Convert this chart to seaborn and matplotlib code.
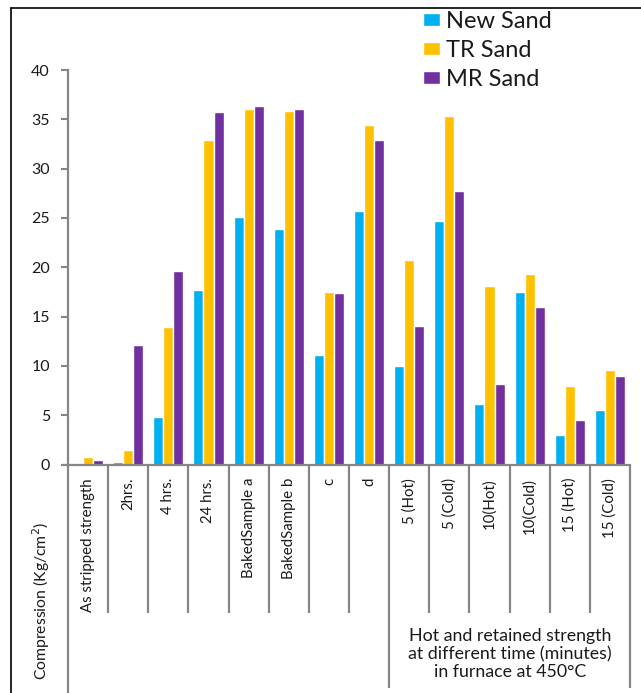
import matplotlib.pyplot as plt
import pandas as pd
import seaborn as sns


CATEGORIES = [
    "As stripped strength", "2hrs.", "4 hrs.", "24 hrs.",
    "BakedSample a", "BakedSample b", "c", "d",
    "5 (Hot)", "5 (Cold)", "10(Hot)", "10(Cold)", "15 (Hot)", "15 (Cold)",
]
SERIES = ["New Sand", "TR Sand", "MR Sand"]
NEW_SAND = [0.2, 0.3, 4.8, 17.7, 25.1, 23.9, 11.1, 25.7, 10.0, 24.7, 6.1, 17.5, 3.0, 5.5]
TR_SAND = [0.8, 1.5, 13.9, 32.9, 36.0, 35.8, 17.5, 34.4, 20.7, 35.3, 18.1, 19.3, 8.0, 9.6]
MR_SAND = [0.5, 12.1, 19.6, 35.7, 36.4, 36.0, 17.4, 32.9, 14.0, 27.7, 8.2, 16.0, 4.5, 9.0]
Y_TICKS = [0, 5, 10, 15, 20, 25, 30, 35, 40]
NOTE = "Hot and retained strength\nat different time (minutes)\nin furnace at 450°C"

COLORS = ["#00B0F0", "#FFC000", "#7030A0"]
GRAY = "#868686"
TEXT = "#1a1a1a"


def main() -> None:
    sns.set_theme(style="white")
    plt.rcParams["font.family"] = ["Lato", "DejaVu Sans"]

    df = pd.DataFrame({
        "category": CATEGORIES * 3,
        "series": [s for s in SERIES for _ in CATEGORIES],
        "value": NEW_SAND + TR_SAND + MR_SAND,
    })

    W, H = 641, 693
    top_px, base_px = 70, 464.5
    fig = plt.figure(figsize=(W / 100, H / 100), dpi=100)
    ax = fig.add_axes([68 / W, 1 - base_px / H, 562 / W, (base_px - top_px) / H])

    sns.barplot(
        data=df, x="category", y="value", hue="series",
        order=CATEGORIES, hue_order=SERIES, palette=COLORS,
        width=0.75, saturation=1, ax=ax,
    )

    ax.set_xlim(-0.5, len(CATEGORIES) - 0.5)
    ax.set_ylim(0, 40)
    ax.set_yticks(Y_TICKS)
    ax.tick_params(axis="y", left=True, length=5, width=1.5, color=GRAY,
                   labelsize=11.5, labelcolor=TEXT, pad=8)
    ax.set_xticks([])
    ax.set_xlabel("")
    ax.set_ylabel("")
    for side in ["top", "right"]:
        ax.spines[side].set_visible(False)
    for side in ["left", "bottom"]:
        ax.spines[side].set_color(GRAY)
        ax.spines[side].set_linewidth(1.6)

    # table lines below the axis
    span = base_px - top_px
    bt = ax.get_xaxis_transform()
    short_y = -(613 - base_px) / span
    long_y = -(688 - base_px) / span
    left_y = -(693 - base_px) / span
    n = len(CATEGORIES)
    for i in range(n + 1):
        if i == 0:
            y_end = left_y
        elif i in (8, n):
            y_end = long_y
        else:
            y_end = short_y
        ax.plot([i - 0.5, i - 0.5], [0, y_end], color=GRAY, lw=1.6,
                transform=bt, clip_on=False, solid_capstyle="butt")
    # zero line extends left a little
    ax.plot([-0.66, -0.5], [0, 0], color=GRAY, lw=1.6, transform=bt, clip_on=False)

    label_top = -(478 - base_px) / span
    for i, cat in enumerate(CATEGORIES):
        ax.text(i, label_top, cat, rotation=90, ha="center", va="top",
                fontsize=10.8, color=TEXT, transform=bt)

    fig.text(41 / W, 1 - 601 / H, "Compression (Kg/cm$^2$)", rotation=90,
             ha="center", va="center", fontsize=11.3, color=TEXT)
    fig.text(510 / W, 1 - 654 / H, NOTE, ha="center", va="center",
             fontsize=12.8, color=TEXT, linespacing=1.12)

    handles, labels = ax.get_legend_handles_labels()
    ax.legend(
        handles, labels, loc="upper left", bbox_to_anchor=(423 / W, 1 - 11 / H),
        bbox_transform=fig.transFigure, frameon=False, fontsize=17,
        handlelength=0.72, handleheight=0.47, handletextpad=0.27,
        labelspacing=0.33, labelcolor=TEXT, borderaxespad=0, borderpad=0,
    )

    # outer frame (top and left edges)
    fig.add_artist(plt.Line2D([11 / W, 1], [1 - 8 / H, 1 - 8 / H], color="black", lw=1.2))
    fig.add_artist(plt.Line2D([11 / W, 11 / W], [0, 1 - 8 / H], color="black", lw=1.2))

    fig.savefig("out.png", dpi=100)
    plt.close(fig)


if __name__ == "__main__":
    main()
